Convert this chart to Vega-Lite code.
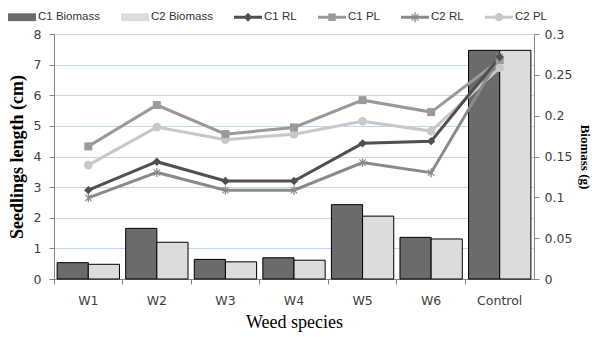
{
  "$schema": "https://vega.github.io/schema/vega-lite/v6.json",
  "width": 480,
  "height": 245,
  "autosize": {"type": "none"},
  "padding": {"left": 54, "top": 34, "right": 58, "bottom": 58},
  "background": "#ffffff",
  "config": {"view": {"stroke": null}},
  "datasets": {
    "bars": [
      {"species": "W1", "series": "C1 Biomass", "biomass": 0.020},
      {"species": "W1", "series": "C2 Biomass", "biomass": 0.018},
      {"species": "W2", "series": "C1 Biomass", "biomass": 0.062},
      {"species": "W2", "series": "C2 Biomass", "biomass": 0.045},
      {"species": "W3", "series": "C1 Biomass", "biomass": 0.024},
      {"species": "W3", "series": "C2 Biomass", "biomass": 0.021},
      {"species": "W4", "series": "C1 Biomass", "biomass": 0.026},
      {"species": "W4", "series": "C2 Biomass", "biomass": 0.023},
      {"species": "W5", "series": "C1 Biomass", "biomass": 0.091},
      {"species": "W5", "series": "C2 Biomass", "biomass": 0.077},
      {"species": "W6", "series": "C1 Biomass", "biomass": 0.051},
      {"species": "W6", "series": "C2 Biomass", "biomass": 0.049},
      {"species": "Control", "series": "C1 Biomass", "biomass": 0.28},
      {"species": "Control", "series": "C2 Biomass", "biomass": 0.28}
    ],
    "lines": [
      {"species": "W1", "series": "C2 PL", "length": 3.72},
      {"species": "W2", "series": "C2 PL", "length": 4.96},
      {"species": "W3", "series": "C2 PL", "length": 4.55},
      {"species": "W4", "series": "C2 PL", "length": 4.73},
      {"species": "W5", "series": "C2 PL", "length": 5.15},
      {"species": "W6", "series": "C2 PL", "length": 4.83},
      {"species": "Control", "series": "C2 PL", "length": 6.9},
      {"species": "W1", "series": "C1 PL", "length": 4.33},
      {"species": "W2", "series": "C1 PL", "length": 5.68},
      {"species": "W3", "series": "C1 PL", "length": 4.73},
      {"species": "W4", "series": "C1 PL", "length": 4.95},
      {"species": "W5", "series": "C1 PL", "length": 5.84},
      {"species": "W6", "series": "C1 PL", "length": 5.45},
      {"species": "Control", "series": "C1 PL", "length": 7.15},
      {"species": "W1", "series": "C2 RL", "length": 2.65},
      {"species": "W2", "series": "C2 RL", "length": 3.48},
      {"species": "W3", "series": "C2 RL", "length": 2.9},
      {"species": "W4", "series": "C2 RL", "length": 2.9},
      {"species": "W5", "series": "C2 RL", "length": 3.8},
      {"species": "W6", "series": "C2 RL", "length": 3.47},
      {"species": "Control", "series": "C2 RL", "length": 7.25},
      {"species": "W1", "series": "C1 RL", "length": 2.9},
      {"species": "W2", "series": "C1 RL", "length": 3.83},
      {"species": "W3", "series": "C1 RL", "length": 3.2},
      {"species": "W4", "series": "C1 RL", "length": 3.2},
      {"species": "W5", "series": "C1 RL", "length": 4.43},
      {"species": "W6", "series": "C1 RL", "length": 4.5},
      {"species": "Control", "series": "C1 RL", "length": 7.25}
    ]
  },
  "resolve": {"scale": {"y": "independent"}, "axis": {"y": "independent"}},
  "layer": [
    {
      "data": {"name": "bars"},
      "mark": {"type": "bar", "stroke": "#000000", "strokeWidth": 1},
      "encoding": {
        "x": {
          "field": "species", "type": "nominal",
          "sort": ["W1", "W2", "W3", "W4", "W5", "W6", "Control"],
          "scale": {"paddingInner": 0, "paddingOuter": 0},
          "axis": {
            "title": "Weed species",
            "titleFont": "Liberation Serif", "titleFontSize": 18, "titleFontWeight": "normal", "titleColor": "#000000",
            "titlePadding": 7,
            "labelFont": "DejaVu Sans", "labelFontSize": 12.5, "labelColor": "#404040", "labelAngle": 0,
            "bandPosition": 0, "labelPadding": 10,
            "domainColor": "#868686", "tickColor": "#868686", "tickSize": 5, "grid": false
          }
        },
        "xOffset": {"field": "series", "type": "nominal", "scale": {"paddingOuter": 0.1, "paddingInner": 0}},
        "y": {
          "field": "biomass", "type": "quantitative",
          "scale": {"domain": [0, 0.3], "nice": false},
          "axis": {
            "orient": "right", "title": "Biomass (g)",
            "values": [0, 0.05, 0.1, 0.15, 0.2, 0.25, 0.3], "format": "~g",
            "titleFont": "Liberation Serif", "titleFontSize": 13, "titleFontWeight": "bold", "titleColor": "#000000",
            "titlePadding": 6,
            "labelFont": "DejaVu Sans", "labelFontSize": 12.5, "labelColor": "#404040", "labelPadding": 5,
            "domainColor": "#868686", "tickColor": "#868686", "tickSize": 5, "grid": false
          }
        },
        "color": {
          "field": "series", "type": "nominal",
          "scale": {
            "domain": ["C1 Biomass", "C2 Biomass", "C1 RL", "C1 PL", "C2 RL", "C2 PL"],
            "range": ["#6b6b6b", "#dcdcdc", "#505050", "#9a9a9a", "#8a8a8a", "#c8c8c8"]
          },
          "legend": {
            "orient": "none", "legendX": -46, "legendY": -31,
            "direction": "horizontal", "columns": 6, "title": null,
            "symbolSize": 784, "columnPadding": 21, "labelOffset": 2,
            "symbolOpacity": 1, "symbolStrokeWidth": 0,
            "labelFont": "Liberation Sans", "labelFontSize": 11.5, "labelColor": "#333333"
          }
        }
      }
    },
    {
      "data": {"name": "lines"},
      "encoding": {
        "x": {"field": "species", "type": "nominal", "sort": ["W1", "W2", "W3", "W4", "W5", "W6", "Control"]},
        "y": {
          "field": "length", "type": "quantitative",
          "scale": {"domain": [0, 8], "nice": false},
          "axis": {
            "orient": "left", "title": "Seedlings length (cm)",
            "values": [0, 1, 2, 3, 4, 5, 6, 7, 8],
            "titleFont": "Liberation Serif", "titleFontSize": 18, "titleFontWeight": "bold", "titleColor": "#000000",
            "titlePadding": 7,
            "labelFont": "DejaVu Sans", "labelFontSize": 12.5, "labelColor": "#404040", "labelPadding": 8,
            "domainColor": "#868686", "tickColor": "#868686", "tickSize": 5,
            "grid": true, "gridColor": "#c3d6ee", "gridWidth": 1
          }
        },
        "color": {"field": "series", "type": "nominal"}
      },
      "layer": [
        {"mark": {"type": "line", "strokeWidth": 3}},
        {
          "transform": [{"filter": {"field": "series", "equal": "C2 PL"}}],
          "mark": {"type": "point", "filled": true, "shape": "circle", "size": 75, "opacity": 1}
        },
        {
          "transform": [{"filter": {"field": "series", "equal": "C1 PL"}}],
          "mark": {"type": "point", "filled": true, "shape": "square", "size": 64, "opacity": 1}
        },
        {
          "transform": [{"filter": {"field": "series", "equal": "C2 RL"}}],
          "mark": {"type": "point", "filled": true, "size": 80, "opacity": 1,
                   "shape": "M-0.15,-1H0.15V1H-0.15Z M-0.792,-0.622L-0.622,-0.792L0.792,0.622L0.622,0.792Z M-0.622,0.792L-0.792,0.622L0.622,-0.792L0.792,-0.622Z"}
        },
        {
          "transform": [{"filter": {"field": "series", "equal": "C1 RL"}}],
          "mark": {"type": "point", "filled": true, "shape": "diamond", "size": 70, "opacity": 1}
        },
        {
          "transform": [{"filter": "false"}],
          "mark": {"type": "point", "filled": true, "size": 784, "opacity": 1},
          "encoding": {
            "shape": {
              "field": "series", "type": "nominal",
              "scale": {
                "domain": ["C1 Biomass", "C2 Biomass", "C1 RL", "C1 PL", "C2 RL", "C2 PL"],
                "range": [
                  "M-1,-0.28H1V0.28H-1Z",
                  "M-1,-0.28H1V0.28H-1Z",
                  "M-1,-0.1H1V0.1H-1Z M0,-0.32L0.3,0L0,0.32L-0.3,0Z",
                  "M-1,-0.1H1V0.1H-1Z M-0.27,-0.27H0.27V0.27H-0.27Z",
                  "M-1,-0.1H1V0.1H-1Z M-0.05,-0.35H0.05V0.35H-0.05Z M-0.275,-0.219L-0.219,-0.275L0.275,0.219L0.219,0.275Z M-0.219,0.275L-0.275,0.219L0.219,-0.275L0.275,-0.219Z",
                  "M-1,-0.1H1V0.1H-1Z M-0.3,0A0.3,0.3 0 1,1 0.3,0A0.3,0.3 0 1,1 -0.3,0Z"
                ]
              },
              "legend": {
                "orient": "none", "legendX": -46, "legendY": -31,
                "direction": "horizontal", "columns": 6, "title": null,
                "symbolSize": 784, "columnPadding": 21, "labelOffset": 2,
                "symbolOpacity": 1, "symbolStrokeWidth": 0,
                "labelFont": "Liberation Sans", "labelFontSize": 11.5, "labelColor": "#333333"
              }
            }
          }
        }
      ]
    }
  ]
}
